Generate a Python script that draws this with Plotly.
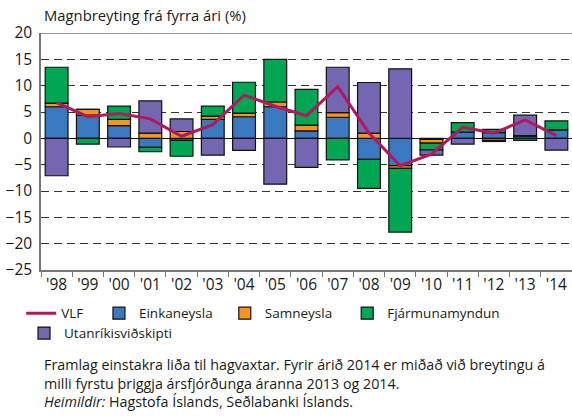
import plotly.graph_objects as go

# ár og framlag einstakra liða (prósentustig)
ar = ["'98", "'99", "'00", "'01", "'02", "'03", "'04", "'05", "'06",
      "'07", "'08", "'09", "'10", "'11", "'12", "'13", "'14"]
einkaneysla = [6.0, 4.4, 2.4, -1.7, -0.4, 3.6, 4.1, 6.0, 1.4, 4.0, -4.0, -5.2, -0.2, 1.2, 1.1, 0.4, 1.6]
samneysla = [0.7, 1.1, 1.2, 1.0, 1.3, 0.6, 0.7, 0.9, 1.1, 0.9, 1.0, -0.5, -0.7, 0.0, -0.4, 0.1, 0.0]
fjarmunamyndun = [6.8, -1.1, 2.5, -0.85, -3.0, 1.9, 5.85, 8.1, 6.8, -4.1, -5.5, -12.1, -1.3, 1.8, 0.6, -0.4, 1.7]
utanrikis = [-7.1, 0.0, -1.65, 6.1, 2.4, -3.2, -2.3, -8.7, -5.5, 8.6, 9.6, 13.2, -1.0, -1.1, -0.2, 3.9, -2.25]
vlf = [6.8, 4.1, 4.7, 3.7, 0.4, 2.6, 8.2, 6.1, 4.3, 9.8, 1.0, -5.2, -3.0, 2.1, 1.0, 3.5, 0.5]

font = "Open Sans"
fig = go.Figure()

bars = [
    ("Einkaneysla", einkaneysla, "#3a78c0", "legend2"),
    ("Samneysla", samneysla, "#f7941d", "legend3"),
    ("Fjármunamyndun", fjarmunamyndun, "#00a651", "legend4"),
    ("Utanríkisviðskipti", utanrikis, "#7466b0", "legend5"),
]
for nafn, gildi, litur, leg in bars:
    fig.add_trace(go.Bar(
        x=ar, y=gildi, name=nafn, marker_color=litur,
        marker_line=dict(color="#111111", width=1.2),
        legend=leg,
    ))

fig.add_trace(go.Scatter(
    x=ar, y=vlf, name="VLF", mode="lines",
    line=dict(color="#b5175f", width=3), legend="legend",
))

leg_common = dict(
    orientation="h", xref="container", yref="container",
    xanchor="left", yanchor="top", font=dict(size=13.5),
    itemwidth=30, bgcolor="rgba(0,0,0,0)",
)
fig.update_layout(
    width=572, height=416,
    margin=dict(l=41, r=0, t=33, b=146),
    barmode="relative", bargap=0.27,
    plot_bgcolor="white", paper_bgcolor="white",
    font=dict(family=font, size=13, color="#1a1a1a"),
    legend=dict(x=0.037, y=0.284, **leg_common),
    legend2=dict(x=0.173, y=0.284, **leg_common),
    legend3=dict(x=0.393, y=0.284, **leg_common),
    legend4=dict(x=0.607, y=0.284, **leg_common),
    legend5=dict(x=0.042, y=0.236, **leg_common),
    showlegend=True,
)

fig.update_yaxes(
    range=[-25, 20], dtick=5, showgrid=True, automargin=False,
    gridcolor="#333333", griddash="8px,5px", gridwidth=1,
    zeroline=True, zerolinecolor="#111111", zerolinewidth=1,
    showline=True, linecolor="#777777", linewidth=1.5,
    tickfont=dict(size=15.5), ticks="", ticklabelstandoff=4,
)
fig.update_xaxes(
    showline=True, linecolor="#777777", linewidth=1.5, automargin=False,
    ticks="outside", tickson="boundaries", ticklen=5,
    tickcolor="#777777", tickfont=dict(size=15.5),
)

# efsta lína (20)
fig.add_shape(type="line", xref="paper", yref="y", x0=0, x1=1, y0=20, y1=20,
              line=dict(color="#777777", width=1.5))

fig.add_annotation(
    text="Magnbreyting frá fyrra ári (%)", xref="paper", yref="paper",
    x=0.002, y=1.076, xanchor="left", yanchor="middle", showarrow=False,
    font=dict(size=14.8),
)
fig.add_annotation(
    text="Framlag einstakra liða til hagvaxtar. Fyrir árið 2014 er miðað við breytingu á<br>"
         "milli fyrstu þriggja ársfjórðunga áranna 2013 og 2014.<br>"
         "<i>Heimildir:</i> Hagstofa Íslands, Seðlabanki Íslands.",
    xref="paper", yref="paper", x=0.002, y=-0.35, xanchor="left", yanchor="top",
    align="left", showarrow=False, font=dict(size=14.3),
)

fig.write_html("out.html", config={"displayModeBar": False},
               post_script="document.body.style.margin='0';")
